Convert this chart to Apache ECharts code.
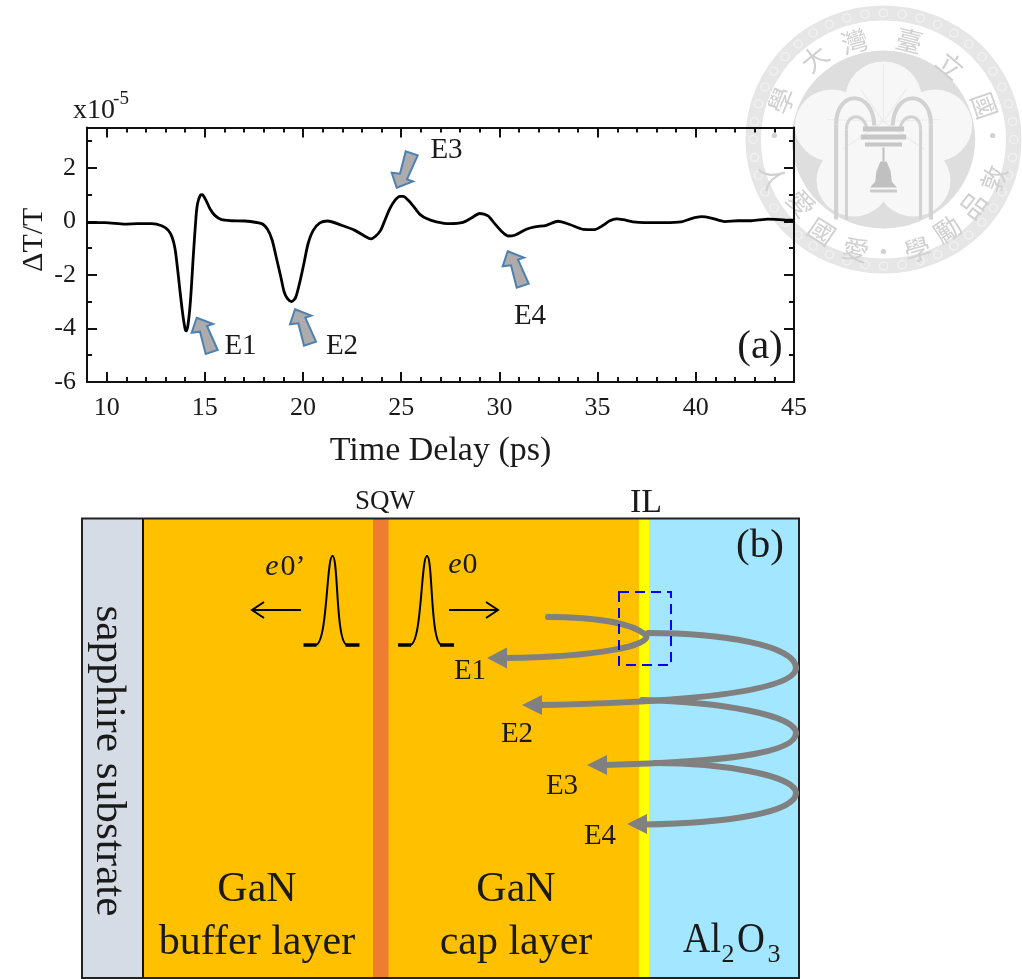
<!DOCTYPE html>
<html>
<head>
<meta charset="utf-8">
<style>html,body{margin:0;padding:0;background:#fff}#c{width:1022px;height:979px}</style>
<script src="https://cdn.jsdelivr.net/npm/echarts@6/dist/echarts.min.js"></script>
</head>
<body>
<div id="c"></div>
<script>
const timeDelay = [9,9.92,10.93,11.6,12.29,12.8,13.14,13.34,13.48,13.6,13.73,13.87,13.99,14.05,14.14,14.27,14.41,14.55,14.63,14.77,14.87,15.04,15.26,15.51,15.85,16.36,17.04,17.89,18.19,18.43,18.65,18.87,19.04,19.21,19.41,19.62,19.84,20.06,20.26,20.52,20.86,21.25,21.96,22.64,23.15,23.45,23.69,23.95,24.17,24.42,24.68,24.93,25.1,25.44,25.78,25.95,26.29,26.79,27.47,28.15,28.57,29,29.42,29.76,30.1,30.44,30.78,31.37,31.8,32.39,32.99,33.58,34.26,34.85,35.28,35.62,35.96,36.3,36.8,37.39,38.41,39.26,39.77,40.28,40.79,41.47,42.15,42.83,43.68,44.53,45];
const deltaT = [-0.05,-0.05,-0.11,-0.09,-0.09,-0.17,-0.34,-0.61,-1.02,-1.7,-2.57,-3.44,-4,-4.09,-3.88,-2.95,-1.33,0.16,0.66,0.97,0.99,0.81,0.47,0.22,0.06,0.02,0.01,-0.09,-0.3,-0.71,-1.39,-2.08,-2.64,-2.89,-3,-2.85,-2.26,-1.52,-0.83,-0.34,-0.06,0.01,-0.15,-0.34,-0.56,-0.66,-0.56,-0.34,0.04,0.47,0.78,0.93,0.93,0.72,0.41,0.26,0.1,-0.02,-0.09,-0.04,0.12,0.29,0.2,-0.09,-0.37,-0.55,-0.52,-0.3,-0.21,-0.15,0,-0.12,-0.3,-0.31,-0.15,0.02,0.09,0.06,-0.02,-0.05,-0.05,-0.02,0.1,0.17,0.12,-0.01,0.02,0.02,0.08,0.05,0.04];
const xMajorTicks = [10,15,20,25,30,35,40,45];
const xMinorTicks = [11,12,13,14,16,17,18,19,21,22,23,24,26,27,28,29,31,32,33,34,36,37,38,39,41,42,43,44];
const yMajorTicks = [-6,-4,-2,0,2];
const yMinorTicks = [-5,-3,-1,1,3];
const xRange = [9,45];
const yRange = [-6,3.5];
const xTitle = 'Time Delay (ps)';
const yTitle = '\u0394T/T';
const sealTop = [['\u5b78',-99,-39],['\u5927',-67,-81],['\u7063',-28,-98],['\u81fa',25,-99],['\u7acb',65,-74],['\u570b',98,-34]];
const sealBottom = [['\u6566',107,39],['\u54c1',87,66],['\u52f5',62,90],['\u5b78',33,110],['\u611b',-27,110],['\u570b',-60,92],['\u611b',-80,64],['\u4eba',-107,37]];

const SERIF = '"Liberation Serif","Times New Roman",serif';
const INK = '#1a1a1a';
const GREY = '#808080';

function tx(text,x,y,size,o){o=o||{};
  return {type:'text',x:x,y:y,z:o.z==null?20:o.z,rotation:o.rot||0,scaleX:o.sx||1,scaleY:o.sy||1,silent:true,
    style:{text:text,x:0,y:0,fontFamily:o.font||SERIF,fontSize:size,fontStyle:o.style||'normal',fill:o.fill||INK,
      textAlign:o.align||'center',textVerticalAlign:'middle',align:o.align||'center',verticalAlign:'middle'}};
}
function box(x,y,w,h,fill){return {type:'rect',z:5,silent:true,shape:{x,y,width:w,height:h},style:{fill}};}
function seg(x1,y1,x2,y2,w,col,z){return {type:'line',z:z||12,silent:true,shape:{x1,y1,x2,y2},style:{stroke:col,lineWidth:w,lineCap:'butt'}};}
function bz(p,w,col,z){return {type:'bezierCurve',z:z||12,silent:true,shape:{x1:p[0],y1:p[1],cpx1:p[2],cpy1:p[3],cpx2:p[4],cpy2:p[5],x2:p[6],y2:p[7]},style:{stroke:col,lineWidth:w,fill:null,lineCap:'round'}};}
function poly(pts,fill,stroke,w,z){return {type:'polygon',z:z||14,silent:true,shape:{points:pts},style:{fill,stroke:stroke||null,lineWidth:w||0,lineJoin:'miter'}};}
function chev(x,y,d){return {type:'polyline',z:13,silent:true,shape:{points:[[x+d*12,y-8],[x,y],[x+d*12,y+8]]},style:{stroke:'#000',lineWidth:2,fill:null}};}

// block arrows of panel (a); offsets relative to the tip
const up=[[0,0],[16.3,6.3],[10.3,8.3],[21,32.3],[9,36.3],[3.3,14],[-5,15]];
function blockArrow(tx0,ty0,sign){return poly(up.map(p=>[tx0+p[0],ty0+sign*p[1]]),'#ADABAB','#4F81AF',2,15);}

function pulse(x0){
  const c=x0+29;
  return [
    seg(x0,645,x0+13,645,3.5,'#000',13), seg(c+13,645,c+27,645,3.5,'#000',13),
    bz([x0+12,645,x0+24,645,c-6,556,c,556],2,'#000',13),
    bz([c,556,c+6,556,c+3,645,c+15,645],2,'#000',13)
  ];
}

// NTU seal (background watermark)
function seal(){
  const ch=[], c1='#e6e6e6', c2='#dedede', c3='#d2d2d2';
  ch.push({type:'ring',shape:{cx:0,cy:0,r:134,r0:119},style:{fill:c1},silent:true});
  for(let i=0;i<44;i++){const a=i/44*Math.PI*2;
    ch.push({type:'circle',shape:{cx:126.5*Math.cos(a),cy:126.5*Math.sin(a),r:4},style:{fill:null,stroke:'#f1f1f1',lineWidth:1.4},silent:true});}
  ch.push({type:'circle',shape:{cx:0,cy:0,r:89},style:{fill:c2},silent:true});
  [[0,-41,37],[-50,-14,36],[50,-14,36],[-29,41,36],[29,41,36],[0,0,36]].forEach(p=>
    ch.push({type:'circle',shape:{cx:p[0],cy:p[1],r:p[2]},style:{fill:'#f7f7f7'},silent:true}));
  // palm fronds
  [[0,-75],[-22,-50],[22,-50],[-55,-20],[55,-20],[-40,10],[40,10]].forEach(p=>
    ch.push({type:'line',shape:{x1:0,y1:-18,x2:p[0],y2:p[1]},style:{stroke:'#ececec',lineWidth:1.2},silent:true}));
  // arches
  [-1,1].forEach(s=>{
    ch.push({type:'line',shape:{x1:s*46,y1:80,x2:s*46,y2:-15},style:{stroke:c3,lineWidth:4},silent:true});
    ch.push({type:'bezierCurve',shape:{x1:s*46,y1:-15,cpx1:s*46,cpy1:-50,cpx2:s*10,cpy2:-50,x2:s*9,y2:-14},style:{stroke:c3,lineWidth:4,fill:null},silent:true});
    ch.push({type:'line',shape:{x1:s*36,y1:80,x2:s*36,y2:-10},style:{stroke:c3,lineWidth:3},silent:true});
    ch.push({type:'bezierCurve',shape:{x1:s*36,y1:-10,cpx1:s*36,cpy1:-27,cpx2:s*18,cpy2:-27,x2:s*16,y2:-10},style:{stroke:c3,lineWidth:3,fill:null},silent:true});
  });
  // basin
  [[-20,-13,40,5],[-22,-5,44,5],[-18,3,36,4]].forEach(r=>
    ch.push({type:'rect',shape:{x:r[0],y:r[1],width:r[2],height:r[3]},style:{fill:'#c6c6c6'},silent:true}));
  // bell
  ch.push({type:'polygon',shape:{points:[[-3,22],[3,22],[7,32],[8,42],[13,48],[-13,48],[-8,42],[-7,32]]},style:{fill:'#c0c0c0'},silent:true});
  ch.push({type:'line',shape:{x1:0,y1:8,x2:0,y2:22},style:{stroke:'#c0c0c0',lineWidth:2},silent:true});
  ch.push({type:'rect',shape:{x:-13,y:50,width:26,height:3},style:{fill:'#cacaca'},silent:true});
  // seal text: heads point outward on the top arc, toward the centre on the bottom arc
  sealTop.forEach(k=>ch.push(charEl(k[0],k[1],k[2],-Math.atan2(k[1],-k[2]))));
  sealBottom.forEach(k=>ch.push(charEl(k[0],k[1],k[2],Math.atan2(k[1],k[2]))));
  [[106,-4],[0,112],[-106,-4]].forEach(d=>ch.push({type:'circle',shape:{cx:d[0],cy:d[1],r:2.6},style:{fill:'#d2d2d2'},silent:true}));
  return {type:'group',x:883.5,y:139.5,scaleX:1.03,scaleY:1,z:0,silent:true,children:ch};
}
function charEl(t,x,y,rot){
  return {type:'text',x,y,rotation:rot,silent:true,style:{text:t,x:0,y:0,fontFamily:'"Noto Sans CJK TC"',fontSize:26,fill:'#d0d0d0',textAlign:'center',textVerticalAlign:'middle',align:'center',verticalAlign:'middle'}};
}

const graphics = [
  seal(),
  // panel (a) annotations
  blockArrow(196.7,317.7,1), blockArrow(295,309.3,1), blockArrow(507.7,251.3,1), blockArrow(396.7,187.7,-1),
  tx('E1',240.5,346,29), tx('E2',342,346,29), tx('E3',446.5,150,29), tx('E4',530,316,29),
  tx('(a)',760,347,41),
  tx('x10',94,111,28), tx('-5',121,99,19),
  // panel (b) layers
  box(83,519,60,459,'#D6DCE5'), box(143,519,496,459,'#FFC000'), box(373,519,15.5,459,'#ED7D31'),
  box(639,519,10,459,'#FFFF00'), box(649,519,150,459,'#A3E6FF'),
  seg(143,519,143,978,2,'#111',6),
  {type:'rect',z:7,silent:true,shape:{x:82,y:518.5,width:717,height:459.5},style:{fill:null,stroke:'#222',lineWidth:2}},
  tx('SQW',385,502,27), tx('IL',646,503,34), tx('(b)',760,546,41),
  tx('sapphire substrate',108,761,42,{rot:-Math.PI/2,sx:1.03}),
  tx('GaN',257,890,42), tx('buffer layer',257,943,42),
  tx('GaN',516,890,42), tx('cap layer',516,943,42),
  tx('Al',702,941,42,{sx:0.9}), tx('2',728,955,26), tx('O',751,941,42,{sx:0.92}), tx('3',774,955,26),
  tx('e',272,567,30,{style:'italic'}), tx('0\u2019',293,567,30),
  tx('e',455,565,30,{style:'italic'}), tx('0',470,565,30),
  // dashed box
  {type:'rect',z:16,silent:true,shape:{x:619,y:592,width:52,height:73},style:{fill:null,stroke:'#0000FF',lineWidth:2,lineDash:[10,6]}},
  // black direction arrows
  seg(449,610,497,610,2.2,'#000',13), chev(498,610,-1),
  seg(253,610,301,610,2.2,'#000',13), chev(252,610,1),
  ...pulse(303.5), ...pulse(398),
  // grey reflection paths
  bz([548,617,590,617,630,622,646,635],6,GREY), bz([646,635,652,645,600,657,505,658],6,GREY),
  poly([[487,658],[507,647.5],[507,668.5]],GREY),
  bz([648,633,720,633,796,645,796,668],6,GREY), bz([796,668,796,690,700,702,540,705],6,GREY),
  poly([[522,705],[542,695],[542,715]],GREY),
  bz([642,700,720,702,796,715,796,733],6,GREY), bz([796,733,796,754,720,762,605,765],6,GREY),
  poly([[587,765],[607,755],[607,775]],GREY),
  bz([655,763,720,763,796,775,796,793],6,GREY), bz([796,793,796,813,725,823,645,824.5],6,GREY),
  poly([[627,824],[647,814],[647,834]],GREY),
  tx('E1',470,671,29), tx('E2',517,734,29), tx('E3',562,786,29), tx('E4',600,836,29)
];

const gridRect = {left:87,top:127.5,width:707,height:254.5};
const lineStyle = {color:'#111',width:2};
function xAx(grid,pos,ticks,len,main){return {type:'value',gridIndex:grid,position:pos,min:xRange[0],max:xRange[1],
  splitLine:{show:false},axisLine:{show:main,onZero:false,lineStyle},
  axisTick:{show:true,inside:true,length:len,customValues:ticks,lineStyle},
  axisLabel:{show:false}};}
function yAx(grid,pos,ticks,len,main){return {type:'value',gridIndex:grid,position:pos,min:yRange[0],max:yRange[1],
  splitLine:{show:false},axisLine:{show:main,onZero:false,lineStyle},
  axisTick:{show:true,inside:true,length:len,customValues:ticks,lineStyle},
  axisLabel:{show:false}};}

const xMain = xAx(0,'bottom',xMajorTicks,10,true);
xMain.axisLabel={show:true,customValues:xMajorTicks,fontFamily:SERIF,fontSize:26,color:INK,margin:13,formatter:v=>String(v)};
xMain.name=xTitle; xMain.nameLocation='middle'; xMain.nameGap=52;
xMain.nameTextStyle={fontFamily:SERIF,fontSize:34,color:INK};
const yMain = yAx(0,'left',yMajorTicks,10,true);
yMain.axisLabel={show:true,customValues:yMajorTicks,fontFamily:SERIF,fontSize:26,color:INK,margin:11,formatter:v=>String(v)};
yMain.name=yTitle; yMain.nameLocation='middle'; yMain.nameGap=38; yMain.nameMoveOverlap=false;
yMain.nameTextStyle={fontFamily:SERIF,fontSize:30,color:INK,padding:[0,0,0,30]};

const option = {
  animation:false,
  backgroundColor:'#fff',
  grid:[gridRect,Object.assign({},gridRect)],
  xAxis:[xMain,xAx(0,'top',xMajorTicks,10,true),xAx(1,'bottom',xMinorTicks,5,false),xAx(1,'top',xMinorTicks,5,false)],
  yAxis:[yMain,yAx(0,'right',yMajorTicks,10,true),yAx(1,'left',yMinorTicks,5,false),yAx(1,'right',yMinorTicks,5,false)],
  series:[{type:'line',xAxisIndex:0,yAxisIndex:0,z:10,data:timeDelay.map((t,i)=>[t,deltaT[i]]),
    showSymbol:false,smooth:0.25,lineStyle:{color:'#000',width:2.8},silent:true}],
  graphic:{elements:graphics}
};
echarts.init(document.getElementById('c'),null,{renderer:'canvas'}).setOption(option);
</script>
</body>
</html>
